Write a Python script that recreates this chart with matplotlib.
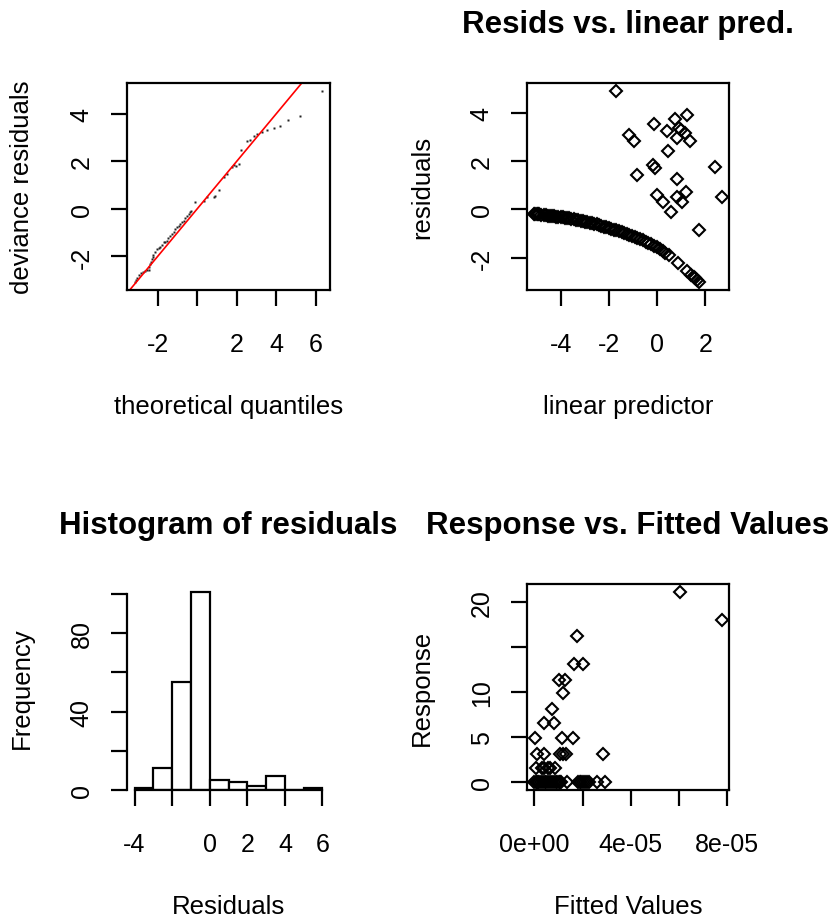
import numpy as np
import matplotlib.pyplot as plt

plt.rcParams['font.family'] = ['Liberation Sans', 'DejaVu Sans']

# ---- QQ plot: theoretical quantiles vs sorted deviance residuals ----
qq_theor = [-3.17, -3.10, -3.02, -2.92, -2.85, -2.75, -2.66, -2.55, -2.46, -2.42,
            -2.38, -2.33, -2.29, -2.25, -2.21, -2.12, -2.03, -1.95, -1.87, -1.78,
            -1.70, -1.62, -1.53, -1.45, -1.36, -1.28, -1.19, -1.10, -1.02, -0.94,
            -0.85, -0.77, -0.68, -0.60, -0.51, -0.43, -0.34, -0.30,
            -0.09, 0.33, 0.50, 0.84, 0.93, 1.09, 1.35, 1.53, 1.78, 1.86, 1.95,
            2.12, 2.24, 2.54, 2.66, 2.88, 3.04, 3.31, 3.56, 3.87, 4.19, 4.58,
            5.20, 6.35]
qq_resid = [-3.09, -3.00, -2.92, -2.80, -2.71, -2.67, -2.62, -2.58, -2.56, -2.45,
            -2.32, -2.22, -2.11, -2.02, -1.94, -1.82, -1.69, -1.66, -1.62, -1.52,
            -1.41, -1.38, -1.34, -1.22, -1.12, -1.04, -0.96, -0.86, -0.77, -0.70,
            -0.63, -0.56, -0.49, -0.40, -0.31, -0.22, -0.14, -0.08,
            0.31, 0.35, 0.49, 0.49, 0.56, 0.80, 1.34, 1.48, 1.76, 1.83, 1.80,
            1.90, 2.50, 2.84, 2.91, 3.06, 3.16, 3.26, 3.34, 3.40, 3.49, 3.74,
            3.93, 4.98]

# ---- residuals vs linear predictor ----
lp_zero = [-5.12, -5.08, -5.03, -4.98, -4.93, -4.85, -4.72, -4.64, -4.55, -4.47,
           -4.38, -4.30, -4.21, -4.12, -4.03, -3.94, -3.85, -3.76, -3.67, -3.58,
           -3.48, -3.39, -3.30, -3.20, -3.11, -3.02, -2.92, -2.82, -2.73, -2.63,
           -2.53, -2.43, -2.33, -2.23, -2.13, -2.02, -1.92, -1.81, -1.71, -1.60,
           -1.49, -1.38, -1.27, -1.16, -1.05, -0.94, -0.83, -0.71, -0.60, -0.48,
           -0.37, -0.25, -0.13, -0.02, 0.10, 0.22, 0.34, 0.50, 0.85, 1.24,
           1.41, 1.52, 1.58, 1.66, 1.76]
res_zero = [-0.20, -0.20, -0.21, -0.21, -0.21, -0.22, -0.24, -0.25, -0.26, -0.27,
            -0.28, -0.29, -0.30, -0.31, -0.33, -0.34, -0.35, -0.37, -0.38, -0.40,
            -0.41, -0.43, -0.45, -0.47, -0.49, -0.51, -0.53, -0.56, -0.58, -0.61,
            -0.63, -0.66, -0.69, -0.72, -0.75, -0.78, -0.81, -0.84, -0.87, -0.91,
            -0.94, -0.98, -1.02, -1.06, -1.10, -1.14, -1.19, -1.24, -1.29, -1.34,
            -1.40, -1.46, -1.52, -1.58, -1.65, -1.72, -1.80, -1.91, -2.23, -2.57,
            -2.71, -2.80, -2.85, -2.93, -3.03]
lp_pos = [-1.71, -1.19, -0.95, -0.86, -0.13, -0.18, -0.09, -0.02, 0.25, 0.57,
          0.39, 0.46, 0.74, 0.92, 0.81, 1.23, 1.17, 1.38, 0.82, 0.82,
          1.03, 1.20, 1.74, 2.40, 2.68, 1.00]
res_pos = [4.92, 3.08, 2.82, 1.41, 3.52, 1.83, 1.73, 0.61, 0.29, -0.12,
           3.24, 2.43, 3.76, 3.36, 2.97, 3.92, 3.17, 2.82, 1.27, 0.51,
           0.29, 0.72, -0.86, 1.76, 0.51, 3.30]

# ---- histogram of residuals ----
bin_edges = [-4, -3, -2, -1, 0, 1, 2, 3, 4, 5, 6]
bin_counts = [1, 11, 55, 101, 5, 4, 2, 7, 0, 1]

# ---- response vs fitted values (fitted in units of 1e-5) ----
fitted = [0.00, 0.05, 0.10, 0.15, 0.20, 0.28, 0.35, 0.42, 0.50, 0.58, 0.65, 0.72,
          0.80, 0.88, 0.95, 1.02, 1.08, 1.12, 1.36, 1.80, 1.88, 1.95, 2.02, 2.10,
          2.18, 2.26, 2.60, 2.93,
          0.07, 0.32, 0.40, 0.55, 0.63, 0.84,
          0.12, 0.40, 1.08, 1.20, 1.30, 2.84,
          0.03, 1.14, 1.59,
          0.41, 0.83,
          0.73,
          1.18,
          1.01, 1.26,
          1.64, 2.04,
          1.76, 7.79, 6.04]
response = [0] * 28 + [1.6] * 6 + [3.2] * 6 + [4.95] * 3 + [6.55] * 2 + [8.1] + [9.9] \
    + [11.4] * 2 + [13.2] * 2 + [16.3, 18.1, 21.2]

W, H = 834, 920
fig = plt.figure(figsize=(W / 100, H / 100), dpi=100)


def box(l, t, r, b):
    return [l / W, 1 - b / H, (r - l) / W, (b - t) / H]


def r_axes(ax, xt, xl, yt, yl, xlab, ylab):
    for s in ax.spines.values():
        s.set_linewidth(1.6)
    ax.set_xticks(xt, xl)
    ax.set_yticks(yt, yl, rotation=90, va='center')
    ax.tick_params(length=11.5, width=1.6, labelsize=18, color='black')
    ax.tick_params(axis='x', pad=18.5)
    ax.tick_params(axis='y', pad=12.5)
    ax.set_xlabel(xlab, fontsize=18.5)
    ax.set_ylabel(ylab, fontsize=18.5)
    h = ax.get_position().height * H
    w = ax.get_position().width * W
    ax.xaxis.set_label_coords(0.5, -104 / h)
    ax.yaxis.set_label_coords(-93 / w, 0.5)


diam = dict(marker='D', ls='none', mfc='none', mec='black', ms=5.9, mew=1.5)

# QQ plot
ax1 = fig.add_axes(box(127, 84, 330, 291))
ax1.plot(qq_theor, qq_resid, 's', ms=1.8, color='#222222', mec='none')
ax1.axline((0, 0), slope=1, color='red', lw=1.2)
ax1.margins(0.04)
r_axes(ax1, [-2, 0, 2, 4, 6], ['-2', '', '2', '4', '6'],
       [-2, 0, 2, 4], ['-2', '0', '2', '4'],
       'theoretical quantiles', 'deviance residuals')

# residuals vs linear predictor
ax2 = fig.add_axes(box(527, 84, 729, 291))
ax2.plot(lp_zero + lp_pos, res_zero + res_pos, **diam)
ax2.margins(0.04)
r_axes(ax2, [-4, -2, 0, 2], ['-4', '-2', '0', '2'],
       [-2, 0, 2, 4], ['-2', '0', '2', '4'],
       'linear predictor', 'residuals')
ax2.set_title('Resids vs. linear pred.', fontsize=22.5, fontweight='bold', pad=37)

# histogram
ax3 = fig.add_axes(box(127, 585, 330, 791))
ax3.bar(bin_edges[:-1], bin_counts, width=1, align='edge',
        facecolor='white', edgecolor='black', linewidth=1.6)
ax3.margins(0.04)
r_axes(ax3, [-4, -2, 0, 2, 4, 6], ['-4', '', '0', '2', '4', '6'],
       [0, 20, 40, 60, 80, 100], ['0', '', '40', '', '80', ''],
       'Residuals', 'Frequency')
ax3.spines['top'].set_visible(False)
ax3.spines['right'].set_visible(False)
ax3.spines['left'].set_bounds(0, 100)
ax3.spines['bottom'].set_bounds(-4, 6)
ax3.set_title('Histogram of residuals', fontsize=22.5, fontweight='bold', pad=37)

# response vs fitted
ax4 = fig.add_axes(box(527, 585, 729, 791))
ax4.plot(np.array(fitted) * 1e-5, response, **diam)
ax4.margins(0.04)
r_axes(ax4, [0, 2e-5, 4e-5, 6e-5, 8e-5], ['0e+00', '', '4e-05', '', '8e-05'],
       [0, 5, 10, 15, 20], ['0', '5', '10', '', '20'],
       'Fitted Values', 'Response')
ax4.set_title('Response vs. Fitted Values', fontsize=22.5, fontweight='bold', pad=37)

fig.savefig('out.png', dpi=100)
